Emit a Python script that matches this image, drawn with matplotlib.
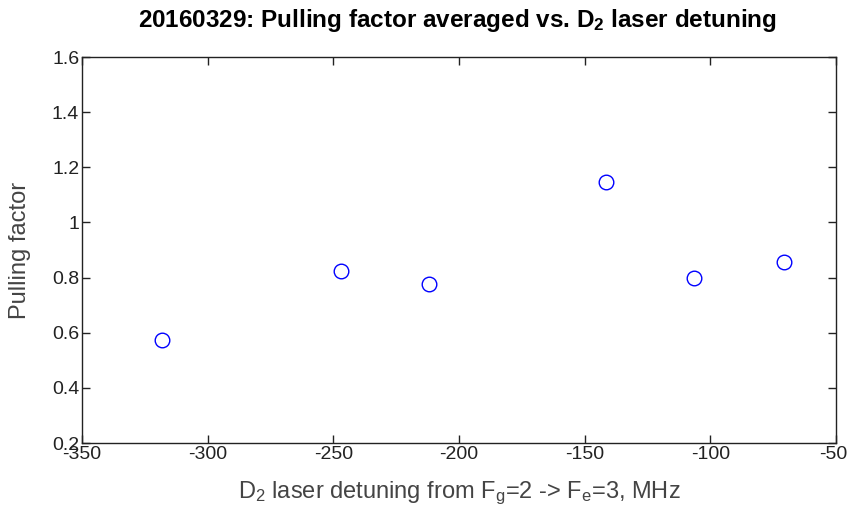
import matplotlib
matplotlib.use('Agg')
import matplotlib.pyplot as plt
import matplotlib.transforms as mtransforms

# detuning (MHz) and averaged pulling factor
detuning = [-318, -247, -212, -141.5, -106.5, -70.5]
pulling = [0.575, 0.823, 0.775, 1.145, 0.80, 0.855]

xticks = [-350, -300, -250, -200, -150, -100, -50]
yticks = [0.2, 0.4, 0.6, 0.8, 1.0, 1.2, 1.4, 1.6]
yticklabels = ['0.2', '0.4', '0.6', '0.8', '1', '1.2', '1.4', '1.6']

plt.rcParams['font.family'] = ['Liberation Sans', 'DejaVu Sans']
plt.rcParams['mathtext.default'] = 'regular'

fig = plt.figure(figsize=(8.48, 5.18), dpi=100)
ax = fig.add_axes([82/848, 1 - 443/518, (836 - 82)/848, (443 - 57)/518])

ax.plot(detuning, pulling, 'o', mfc='none', mec='#0000ff', ms=10.5, mew=1.0)

ax.set_xlim(-350, -50)
ax.set_ylim(0.2, 1.6)
ax.set_xticks(xticks)
ax.set_xticklabels([str(t) for t in xticks])
ax.set_yticks(yticks)
ax.set_yticklabels(yticklabels)
ax.tick_params(direction='in', length=6, width=1, top=True, right=True,
               labelsize=14, colors='#222222', pad=2)
for s in ax.spines.values():
    s.set_linewidth(1)
    s.set_color('#222222')

# nudge the last x label so it stays inside the figure
last = ax.get_xticklabels()[-1]
last.set_transform(last.get_transform() +
                   mtransforms.ScaledTranslation(-3/100, 0, fig.dpi_scale_trans))

ax.set_xlabel('D$_2$ laser detuning from F$_g$=2 -> F$_e$=3, MHz',
              fontsize=17, color='#444444', va='center')
ax.xaxis.set_label_coords(0.5, -(493 - 443) / 386)
ax.set_ylabel('Pulling factor', fontsize=17, color='#444444', va='center')
ax.yaxis.set_label_coords((20 - 82) / 754, 0.5)

fig.text(457/848, 1 - 20/518,
         '20160329: Pulling factor averaged vs. D$_2$ laser detuning',
         fontsize=17.5, fontweight='bold', ha='center', va='center')

plt.savefig('out.png', dpi=100)
plt.close()
